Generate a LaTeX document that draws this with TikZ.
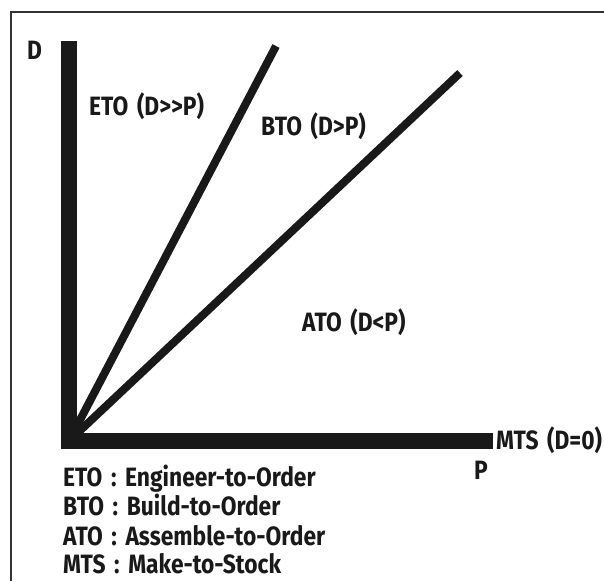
\documentclass[tikz,border=0pt]{standalone}
\usepackage{fontspec}
\setmainfont{Fira Sans}[FakeStretch=0.86,WordSpace=1.6]
\usepackage{tikz}

\begin{document}
\begin{tikzpicture}[x=1pt,y=-1pt,
        axis/.style={line width=16pt,draw=black!90},
        ray/.style={line width=8pt,draw=black!90},
        lbl/.style={inner sep=0pt,anchor=base west,text=black!90,font=\fontsize{26.5}{30}\selectfont\bfseries}]
        \useasboundingbox (0,0) rectangle (604,581);
        \draw[line width=1.3pt,black!80] (11,581) -- (11,12) -- (604,12);

        \coordinate (Origin) at (69,441);
        \coordinate (Dtop) at (69,41);
        \coordinate (Pend) at (493,441);
        \coordinate (ETOend) at (276,46);
        \coordinate (BTOend) at (460,73);

        \node[lbl] (D) at (27,59) {D};
        \node[lbl] (P) at (474,479) {P};
        \node[lbl] (ETO) at (89,115) {ETO (D>{}>P)};
        \node[lbl] (BTO) at (261,135) {BTO (D>P)};
        \node[lbl] (ATO) at (302,331) {ATO (D<P)};
        \node[lbl] (MTS) at (496,449) {MTS (D=0)};

        \node[lbl] (Key ETO) at (63,486) {ETO : Engineer-to-Order};
        \node[lbl] (Key BTO) at (63,515.5) {BTO : Build-to-Order};
        \node[lbl] (Key ATO) at (63,545) {ATO : Assemble-to-Order};
        \node[lbl] (Key MTS) at (63,573.5) {MTS : Make-to-Stock};

        \draw[axis] (Dtop) -- (Origin) -- (Pend);
        \draw[ray] (Origin) to (ETOend);
        \draw[ray] (Origin) to (BTOend);
\end{tikzpicture}
\end{document}
